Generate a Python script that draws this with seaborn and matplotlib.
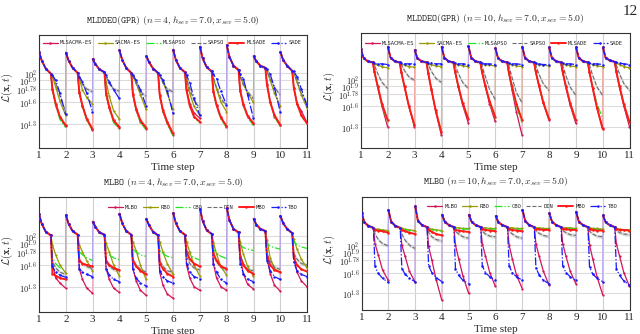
import matplotlib
matplotlib.use("Agg")
import matplotlib.pyplot as plt
from matplotlib.lines import Line2D
import numpy as np
import pandas as pd
import seaborn as sns

# ---------------- data (log10 of loss), 10 time steps per panel ----------------
steps = [1, 2, 3, 4, 5, 6, 7, 8, 9, 10]
head_offsets = [0.0, 0.1, 0.25, 0.44]
tail_offsets = [0.5, 0.62, 0.78, 0.99]
ytick_exps = [1.3, 1.6, 1.78, 1.9, 2.0]
ytick_labels = [r"$10^{1.3}$", r"$10^{1.6}$", r"$10^{1.78}$", r"$10^{1.9}$", r"$10^{2}$"]
xtick_values = [1, 2, 3, 4, 5, 6, 7, 8, 9, 10, 11]

names_top = ["MLSACMA-ES", "SACMA-ES", "MLSAPSO", "SAPSO", "MLSADE", "SADE"]
names_bottom = ["MLBO", "RBO", "CBO", "DIN", "MBO", "TBO"]

# ---- panel 1: MLDDEO(GPR), n=4
p1_head = [[2.29, 2.17, 2.06, 1.99], [2.28, 2.17, 2.07, 2.0], [2.19, 2.12, 2.05, 2.01],
           [2.31, 2.18, 2.07, 2.0], [2.23, 2.15, 2.06, 2.0], [2.32, 2.18, 2.07, 2.01],
           [2.36, 2.20, 2.08, 2.02], [2.38, 2.22, 2.10, 2.04], [2.23, 2.16, 2.10, 2.07],
           [2.29, 2.18, 2.10, 2.03]]
p1_mlsacmaes = [[1.77, 1.56, 1.38, 1.27], [1.72, 1.54, 1.36, 1.22], [1.70, 1.52, 1.33, 1.24],
                [1.70, 1.49, 1.33, 1.23], [1.68, 1.47, 1.31, 1.15], [1.77, 1.58, 1.45, 1.38],
                [1.74, 1.55, 1.38, 1.26], [1.75, 1.56, 1.40, 1.30], [1.85, 1.60, 1.40, 1.28],
                [1.80, 1.58, 1.48, 1.32]]
p1_sacmaes = [[1.95, 1.81, 1.61, 1.42], [1.92, 1.77, 1.66, 1.58], [1.88, 1.68, 1.48, 1.37],
              [1.96, 1.86, 1.70, 1.50], [1.97, 1.88, 1.72, 1.50], [1.90, 1.72, 1.54, 1.42],
              [1.92, 1.78, 1.60, 1.47], [1.95, 1.85, 1.72, 1.60], [2.02, 1.90, 1.72, 1.55],
              [2.00, 1.88, 1.70, 1.52]]
p1_mlsapso = [[1.77, 1.55, 1.36, 1.25], [1.73, 1.53, 1.35, 1.21], [1.71, 1.51, 1.32, 1.23],
              [1.70, 1.49, 1.32, 1.22], [1.69, 1.47, 1.30, 1.14], [1.76, 1.55, 1.39, 1.31],
              [1.74, 1.54, 1.37, 1.25], [1.75, 1.55, 1.39, 1.28], [1.84, 1.59, 1.40, 1.26],
              [1.80, 1.57, 1.41, 1.29]]
p1_sapso = [[1.97, 1.86, 1.68, 1.47], [1.94, 1.84, 1.78, 1.74], [1.95, 1.85, 1.78, 1.75],
            [1.96, 1.86, 1.74, 1.68], [1.97, 1.86, 1.78, 1.74], [1.92, 1.78, 1.62, 1.52],
            [1.93, 1.80, 1.65, 1.55], [1.95, 1.84, 1.74, 1.65], [2.03, 1.92, 1.80, 1.70],
            [2.00, 1.88, 1.72, 1.58]]
p1_mlsade = [[1.78, 1.58, 1.40, 1.28], [1.74, 1.55, 1.37, 1.23], [1.72, 1.53, 1.35, 1.26],
             [1.71, 1.51, 1.35, 1.25], [1.70, 1.49, 1.33, 1.17], [1.76, 1.55, 1.40, 1.33],
             [1.75, 1.56, 1.39, 1.27], [1.76, 1.57, 1.41, 1.31], [1.84, 1.60, 1.42, 1.29],
             [1.80, 1.58, 1.42, 1.31]]
p1_sade = [[1.97, 1.90, 1.72, 1.43], [1.95, 1.88, 1.72, 1.47], [1.97, 1.88, 1.77, 1.65],
           [1.97, 1.90, 1.77, 1.55], [1.97, 1.90, 1.75, 1.45], [1.97, 1.86, 1.65, 1.42],
           [1.98, 1.92, 1.75, 1.56], [1.98, 1.92, 1.70, 1.38], [2.05, 1.98, 1.80, 1.47],
           [2.02, 1.95, 1.78, 1.55]]

# ---- panel 2: MLDDEO(GPR), n=10
p2_head = [[2.43, 2.30, 2.26, 2.24], [2.47, 2.31, 2.26, 2.24], [2.42, 2.30, 2.26, 2.24],
           [2.47, 2.31, 2.26, 2.24], [2.48, 2.31, 2.26, 2.24], [2.45, 2.30, 2.26, 2.24],
           [2.47, 2.31, 2.26, 2.24], [2.46, 2.31, 2.26, 2.24], [2.46, 2.31, 2.26, 2.24],
           [2.46, 2.31, 2.27, 2.25]]
p2_mlsacmaes = [[2.10, 1.88, 1.60, 1.30], [2.10, 1.88, 1.60, 1.30], [2.08, 1.84, 1.52, 1.18],
                [2.10, 1.88, 1.62, 1.36], [2.10, 1.90, 1.64, 1.38], [2.08, 1.84, 1.52, 1.18],
                [2.10, 1.90, 1.65, 1.40], [2.10, 1.88, 1.62, 1.35], [2.10, 1.86, 1.58, 1.28],
                [2.10, 1.87, 1.60, 1.30]]
p2_sacmaes = [[2.22, 2.20, 2.18, 2.16], [2.22, 2.20, 2.18, 2.17], [2.22, 2.21, 2.19, 2.18],
              [2.22, 2.21, 2.19, 2.18], [2.22, 2.21, 2.20, 2.19], [2.22, 2.21, 2.19, 2.18],
              [2.22, 2.21, 2.20, 2.19], [2.22, 2.21, 2.19, 2.18], [2.23, 2.21, 2.19, 2.18],
              [2.23, 2.21, 2.18, 2.16]]
p2_mlsapso = [[2.10, 1.89, 1.62, 1.36], [2.10, 1.88, 1.60, 1.31], [2.08, 1.84, 1.53, 1.20],
              [2.10, 1.89, 1.63, 1.40], [2.10, 1.90, 1.66, 1.42], [2.09, 1.87, 1.60, 1.36],
              [2.10, 1.90, 1.65, 1.41], [2.10, 1.89, 1.64, 1.38], [2.10, 1.88, 1.64, 1.42],
              [2.10, 1.88, 1.62, 1.36]]
p2_sapso = [[2.20, 2.08, 1.95, 1.86], [2.21, 2.12, 2.03, 1.98], [2.21, 2.11, 2.01, 1.95],
            [2.20, 2.08, 1.95, 1.86], [2.19, 2.04, 1.85, 1.70], [2.19, 2.02, 1.80, 1.65],
            [2.20, 2.07, 1.93, 1.83], [2.20, 2.05, 1.88, 1.76], [2.20, 2.05, 1.88, 1.76],
            [2.20, 2.07, 1.93, 1.83]]
p2_mlsade = [[2.11, 1.90, 1.64, 1.40], [2.10, 1.89, 1.61, 1.32], [2.09, 1.85, 1.54, 1.22],
             [2.11, 1.90, 1.65, 1.42], [2.11, 1.91, 1.68, 1.45], [2.10, 1.89, 1.64, 1.40],
             [2.11, 1.91, 1.66, 1.42], [2.11, 1.90, 1.65, 1.40], [2.10, 1.87, 1.58, 1.27],
             [2.11, 1.89, 1.63, 1.37]]
p2_sade = [[2.23, 2.22, 2.22, 2.21], [2.23, 2.22, 2.22, 2.22], [2.23, 2.23, 2.22, 2.22],
           [2.23, 2.22, 2.22, 2.21], [2.23, 2.22, 2.22, 2.21], [2.23, 2.22, 2.22, 2.21],
           [2.23, 2.22, 2.21, 2.21], [2.23, 2.22, 2.22, 2.21], [2.23, 2.22, 2.22, 2.21],
           [2.24, 2.23, 2.22, 2.21]]

# ---- panel 3: MLBO, n=4
p3_head = [[2.30, 2.17, 2.06, 2.01], [2.29, 2.17, 2.07, 2.02], [2.20, 2.13, 2.05, 2.02],
           [2.31, 2.18, 2.07, 2.02], [2.24, 2.15, 2.06, 2.01], [2.32, 2.18, 2.07, 2.02],
           [2.38, 2.21, 2.08, 2.03], [2.39, 2.22, 2.10, 2.05], [2.24, 2.16, 2.10, 2.07],
           [2.28, 2.18, 2.10, 2.04]]
p3_mlbo = [[1.62, 1.42, 1.35, 1.28], [1.55, 1.40, 1.28, 1.21], [1.55, 1.40, 1.28, 1.22],
           [1.55, 1.38, 1.25, 1.18], [1.50, 1.32, 1.20, 1.14], [1.60, 1.42, 1.30, 1.25],
           [1.62, 1.42, 1.30, 1.25], [1.70, 1.48, 1.33, 1.27], [1.70, 1.48, 1.32, 1.24],
           [1.72, 1.50, 1.38, 1.30]]
p3_rbo = [[1.88, 1.74, 1.60, 1.49], [1.88, 1.78, 1.66, 1.52], [1.90, 1.78, 1.60, 1.45],
          [1.92, 1.80, 1.60, 1.40], [1.92, 1.78, 1.62, 1.48], [1.92, 1.78, 1.60, 1.45],
          [1.92, 1.75, 1.58, 1.46], [1.92, 1.75, 1.58, 1.45], [1.95, 1.70, 1.55, 1.50],
          [1.96, 1.82, 1.68, 1.56]]
p3_cbo = [[1.70, 1.62, 1.56, 1.52], [1.78, 1.74, 1.70, 1.66], [1.78, 1.74, 1.70, 1.67],
          [1.82, 1.78, 1.74, 1.72], [1.80, 1.76, 1.72, 1.70], [1.80, 1.74, 1.70, 1.67],
          [1.82, 1.76, 1.72, 1.69], [1.88, 1.84, 1.82, 1.80], [1.90, 1.86, 1.84, 1.82],
          [1.92, 1.88, 1.85, 1.83]]
p3_din = [[1.65, 1.56, 1.50, 1.47], [1.68, 1.62, 1.58, 1.55], [1.65, 1.58, 1.54, 1.52],
          [1.68, 1.60, 1.54, 1.50], [1.66, 1.58, 1.52, 1.50], [1.72, 1.62, 1.56, 1.53],
          [1.74, 1.64, 1.57, 1.53], [1.74, 1.62, 1.54, 1.52], [1.75, 1.65, 1.57, 1.54],
          [1.76, 1.68, 1.62, 1.60]]
p3_mbo = [[1.48, 1.45, 1.42, 1.40], [1.66, 1.62, 1.60, 1.58], [1.66, 1.60, 1.56, 1.53],
          [1.66, 1.58, 1.52, 1.47], [1.62, 1.55, 1.48, 1.44], [1.78, 1.68, 1.62, 1.58],
          [1.76, 1.66, 1.58, 1.55], [1.72, 1.60, 1.52, 1.48], [1.72, 1.60, 1.53, 1.50],
          [1.70, 1.60, 1.54, 1.51]]
p3_tbo = [[1.58, 1.50, 1.46, 1.43], [1.55, 1.50, 1.47, 1.44], [1.55, 1.46, 1.40, 1.37],
          [1.55, 1.42, 1.35, 1.31], [1.52, 1.44, 1.38, 1.35], [1.62, 1.50, 1.44, 1.41],
          [1.62, 1.50, 1.40, 1.35], [1.62, 1.48, 1.40, 1.37], [1.66, 1.52, 1.44, 1.40],
          [1.64, 1.52, 1.47, 1.44]]

# ---- panel 4: MLBO, n=10
p4_head = [[2.47, 2.33, 2.28, 2.25], [2.51, 2.34, 2.28, 2.25], [2.56, 2.35, 2.29, 2.26],
           [2.44, 2.34, 2.29, 2.26], [2.44, 2.34, 2.29, 2.26], [2.42, 2.33, 2.29, 2.26],
           [2.51, 2.35, 2.29, 2.26], [2.46, 2.34, 2.29, 2.26], [2.48, 2.34, 2.29, 2.26],
           [2.43, 2.33, 2.29, 2.26]]
p4_mlbo = [[2.02, 1.86, 1.64, 1.49], [2.00, 1.84, 1.62, 1.47], [1.98, 1.78, 1.50, 1.20],
           [2.00, 1.80, 1.55, 1.30], [2.02, 1.84, 1.60, 1.40], [2.00, 1.80, 1.56, 1.37],
           [2.02, 1.84, 1.62, 1.42], [2.02, 1.84, 1.62, 1.44], [2.00, 1.80, 1.54, 1.28],
           [2.02, 1.84, 1.60, 1.40]]
p4_rbo = [[2.23, 2.23, 2.22, 2.21], [2.24, 2.23, 2.22, 2.21], [2.24, 2.23, 2.22, 2.21],
          [2.25, 2.25, 2.24, 2.24], [2.25, 2.25, 2.24, 2.24], [2.25, 2.25, 2.24, 2.24],
          [2.25, 2.25, 2.24, 2.24], [2.25, 2.25, 2.25, 2.24], [2.25, 2.24, 2.24, 2.23],
          [2.24, 2.23, 2.22, 2.22]]
p4_cbo = [[2.22, 2.22, 2.21, 2.20], [2.23, 2.22, 2.21, 2.20], [2.23, 2.22, 2.21, 2.20],
          [2.24, 2.24, 2.23, 2.23], [2.24, 2.24, 2.23, 2.23], [2.24, 2.24, 2.23, 2.23],
          [2.24, 2.24, 2.23, 2.23], [2.24, 2.24, 2.24, 2.23], [2.24, 2.23, 2.23, 2.22],
          [2.23, 2.22, 2.21, 2.21]]
p4_din = [[2.16, 2.08, 2.02, 1.99], [2.16, 2.07, 2.00, 1.95], [2.18, 2.12, 2.08, 2.06],
          [2.20, 2.16, 2.12, 2.10], [2.20, 2.16, 2.13, 2.12], [2.20, 2.16, 2.12, 2.10],
          [2.21, 2.17, 2.14, 2.12], [2.21, 2.18, 2.15, 2.14], [2.20, 2.16, 2.13, 2.12],
          [2.21, 2.18, 2.16, 2.15]]
p4_mbo = [[2.22, 2.21, 2.20, 2.18], [2.22, 2.20, 2.18, 2.16], [2.22, 2.19, 2.16, 2.14],
          [2.22, 2.21, 2.20, 2.19], [2.23, 2.22, 2.21, 2.20], [2.23, 2.22, 2.21, 2.20],
          [2.23, 2.23, 2.22, 2.22], [2.23, 2.23, 2.22, 2.22], [2.23, 2.22, 2.21, 2.21],
          [2.23, 2.22, 2.22, 2.21]]
p4_tbo = [[1.69, 1.59, 1.52, 1.46], [1.66, 1.58, 1.52, 1.47], [1.70, 1.60, 1.53, 1.47],
          [1.66, 1.56, 1.49, 1.44], [1.70, 1.60, 1.54, 1.49], [1.70, 1.60, 1.54, 1.49],
          [1.67, 1.57, 1.49, 1.44], [1.70, 1.60, 1.54, 1.49], [1.68, 1.58, 1.52, 1.47],
          [1.66, 1.56, 1.48, 1.42]]

# ---------------- styling ----------------
sns.set_theme(style="white")
plt.rcParams["font.family"] = ["Liberation Serif", "DejaVu Serif"]
plt.rcParams["mathtext.fontset"] = "cm"

colors = ["#d4145a", "#9a9a00", "#22e622", "#6e6e6e", "#ff1a1a", "#1a1aff"]
faint = ["#f2a0bd", "#d8d890", "#a8f0a8", "#c8c8c8", "#ffa0a0", "#a8a8ff"]
linestyles = ["-", "-", "-.", "--", "-", "-."]
markers = ["o", "o", "", "", "o", "o"]
linewidths = [0.9, 0.9, 0.9, 0.8, 1.4, 0.9]
markersizes = [1.6, 1.6, 0, 0, 1.8, 1.8]

panels = [
    dict(rect=[0.061, 0.557, 0.419, 0.338], ylim=(0.97, 2.52),
         title=r"$\mathtt{MLDDEO(GPR)}\ (n=4, h_{sev}=7.0, x_{sev}=5.0)$",
         head=p1_head, series=[p1_mlsacmaes, p1_sacmaes, p1_mlsapso, p1_sapso, p1_mlsade, p1_sade],
         names=names_top, leg=("center", (0.496, 0.93))),
    dict(rect=[0.564, 0.557, 0.420, 0.344], ylim=(0.99, 2.67),
         title=r"$\mathtt{MLDDEO(GPR)}\ (n=10, h_{sev}=7.0, x_{sev}=5.0)$",
         head=p2_head, series=[p2_mlsacmaes, p2_sacmaes, p2_mlsapso, p2_sapso, p2_mlsade, p2_sade],
         names=names_top, leg=("center", (0.494, 0.91))),
    dict(rect=[0.061, 0.066, 0.419, 0.344], ylim=(0.95, 2.54),
         title=r"$\mathtt{MLBO}\ (n=4, h_{sev}=7.0, x_{sev}=5.0)$",
         head=p3_head, series=[p3_mlbo, p3_rbo, p3_cbo, p3_din, p3_mbo, p3_tbo],
         names=names_bottom, leg=("center right", (0.965, 0.913))),
    dict(rect=[0.565, 0.072, 0.419, 0.339], ylim=(1.06, 2.70),
         title=r"$\mathtt{MLBO}\ (n=10, h_{sev}=7.0, x_{sev}=5.0)$",
         head=p4_head, series=[p4_mlbo, p4_rbo, p4_cbo, p4_din, p4_mbo, p4_tbo],
         names=names_bottom, leg=("center right", (0.953, 0.912))),
]


def build_df(head, tail):
    rows = []
    for k, step in enumerate(steps):
        for o, v in zip(head_offsets, head[k]):
            rows.append((step, step + o, v))
        for o, v in zip(tail_offsets, tail[k]):
            rows.append((step, step + o, v))
    df = pd.DataFrame(rows, columns=["seg", "x", "lv"])
    df["y"] = 10 ** df["lv"]
    return df


fig = plt.figure(figsize=(6.4, 3.34), dpi=100)

for p in panels:
    ax = fig.add_axes(p["rect"])
    ax.set_yscale("log")
    for xv in xtick_values:
        ax.axvline(xv, color="#d0d0d0", lw=0.8, zorder=0)
    for e in ytick_exps:
        ax.axhline(10 ** e, color="#dcdcdc", lw=0.8, zorder=0)

    handles = []
    for i, (name, tail) in enumerate(zip(p["names"], p["series"])):
        df = build_df(p["head"], tail)
        # faint connector from the end of one step to the start of the next
        ends = df.groupby("seg").tail(1)
        starts = df.groupby("seg").head(1)
        for (_, e), (_, s) in zip(ends.iloc[:-1].iterrows(), starts.iloc[1:].iterrows()):
            ax.plot([e["x"], s["x"]], [e["y"], s["y"]], color=faint[i], lw=0.6, zorder=1)
        if i == 3:
            for seg, g in df.groupby("seg"):
                ax.fill_between(g["x"], 10 ** (g["lv"] - 0.025), 10 ** (g["lv"] + 0.025),
                                color="#9a9a9a", alpha=0.35, lw=0, zorder=1)
        sns.lineplot(data=df, x="x", y="y", units="seg", ax=ax, sort=False, estimator=None,
                     color=colors[i], linestyle=linestyles[i], lw=linewidths[i],
                     marker=markers[i] if markers[i] else None,
                     markersize=markersizes[i], markeredgewidth=0, zorder=2 + i)
        handles.append(Line2D([], [], color=colors[i], linestyle=linestyles[i], lw=linewidths[i],
                              marker=markers[i] if markers[i] else None, markersize=1.8,
                              markeredgewidth=0, label=name))
    ax.set_xlim(1, 11)
    ax.set_ylim(10 ** p["ylim"][0], 10 ** p["ylim"][1])
    ax.set_xticks(xtick_values)
    ax.set_xticklabels([str(v) for v in xtick_values])
    ax.set_yticks([10 ** e for e in ytick_exps])
    ax.set_yticklabels(ytick_labels)
    ax.yaxis.set_minor_locator(matplotlib.ticker.NullLocator())
    ax.tick_params(axis="both", direction="in", length=2.5, width=0.6, pad=2)
    ax.tick_params(axis="x", labelsize=8)
    ax.tick_params(axis="y", labelsize=6.0, pad=1.5)
    for s in ax.spines.values():
        s.set_color("#333333")
        s.set_linewidth(0.8)
    ax.set_xlabel("Time step", fontsize=8, labelpad=2)
    ax.set_ylabel(r"$\mathcal{L}(\mathbf{x},t)$", fontsize=7.5)
    ax.yaxis.set_label_coords(-0.09, 0.53)
    ax.set_title(p["title"], fontsize=7, pad=9)
    ax.legend(handles=handles, loc=p["leg"][0], bbox_to_anchor=p["leg"][1], ncol=6,
              frameon=False, prop={"family": "DejaVu Sans Mono", "size": 4.0},
              handlelength=2.7, handletextpad=0.4, columnspacing=0.9,
              borderaxespad=0, borderpad=0)

fig.text(0.997, 0.985, "12", ha="right", va="top", fontsize=11)
fig.savefig("out.png", dpi=100)
